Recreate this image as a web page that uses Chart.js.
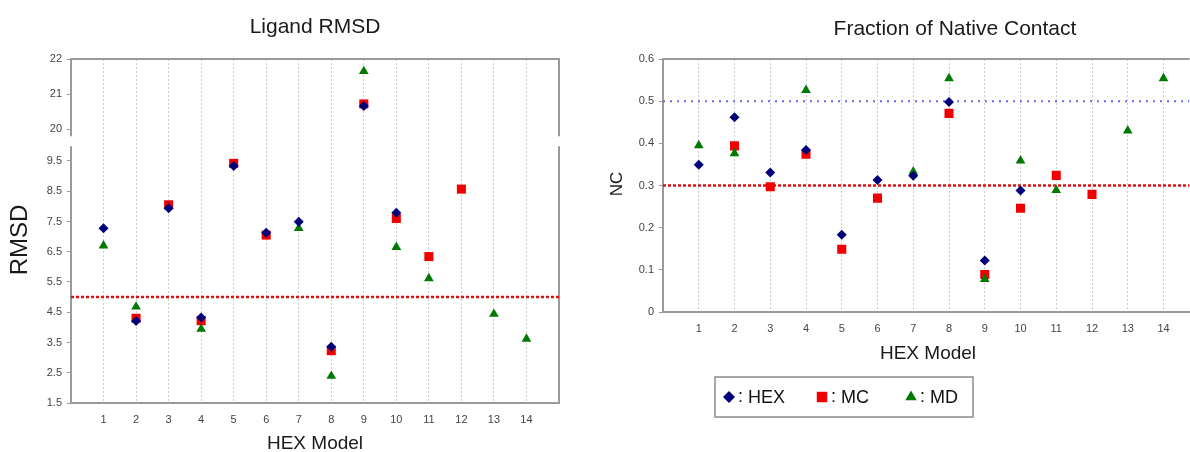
<!DOCTYPE html>
<html>
<head>
<meta charset="utf-8">
<script src="https://cdn.jsdelivr.net/npm/chart.js@4/dist/chart.umd.min.js"></script>
<style>
  html, body { margin: 0; padding: 0; background: #fff; }
  #wrap { position: relative; width: 1190px; height: 452px; overflow: hidden; }
  #rmsd { position: absolute; left: 0; top: 0; }
  #nc { position: absolute; left: 580px; top: 0; }
</style>
</head>
<body>
<div id="wrap">
  <canvas id="rmsd" width="580" height="452"></canvas>
  <!-- a few px wider than the window: the plot runs off the right edge -->
  <canvas id="nc" width="616" height="452"></canvas>
</div>
<script>
// HEX model index on the x axis of both panels.
var models = [1, 2, 3, 4, 5, 6, 7, 8, 9, 10, 11, 12, 13, 14];
var seriesNames = ["HEX", "MC", "MD"];

// Ligand RMSD per model (null = no point for that model).
var rmsdHex = [7.28, 4.21, 7.94, 4.33, 9.33, 7.13, 7.49, 3.36, 20.66, 7.79, null, null, null, null];
var rmsdMc  = [null, 4.30, 8.05, 4.22, 9.42, 7.05, null, 3.23, 20.72, 7.60, 6.34, 8.57, null, null];
var rmsdMd  = [6.70, 4.68, null, 3.95, null, null, 7.28, 2.39, 21.65, 6.65, 5.62, null, 4.44, 3.62];
var rmsdTicks = [1.5, 2.5, 3.5, 4.5, 5.5, 6.5, 7.5, 8.5, 9.5, 20, 21, 22];
var rmsdCutoff = 5;

// Fraction of native contact per model.
var ncHex = [0.349, 0.462, 0.331, 0.384, 0.183, 0.313, 0.323, 0.498, 0.122, 0.288, null, null, null, null];
var ncMc  = [null, 0.394, 0.297, 0.374, 0.149, 0.270, null, 0.471, 0.089, 0.246, 0.324, 0.279, null, null];
var ncMd  = [0.395, 0.376, null, 0.526, null, null, 0.333, 0.554, 0.078, 0.359, 0.289, null, 0.430, 0.554];
var ncTicks = [0, 0.1, 0.2, 0.3, 0.4, 0.5, 0.6];
var ncCutoffLow = 0.3;
var ncCutoffHigh = 0.5;

(function () {
  "use strict";

  var FONT = "'Liberation Sans', Arial, sans-serif";
  var AXIS = "#9a9a9a";

  // The RMSD axis is broken between 9.5 and 20: values above the break are
  // folded down onto a slightly stretched segment sitting on top of 9.5.
  var BREAK_BASE = 10.55, UPPER_STEP = 1.16;
  function squash(v) { return v > 15 ? BREAK_BASE + (v - 20) * UPPER_STEP : v; }

  function points(values, map) {
    var out = [];
    values.forEach(function (v, i) {
      if (v === null) return;
      out.push({ x: models[i], y: map ? map(v) : v });
    });
    return out;
  }

  var styles = [
    { pointStyle: "rectRot", color: "#00007a", radius: 5, order: 0 },
    { pointStyle: "rect", color: "#f20000", radius: 6.4, order: 2 },
    { pointStyle: "triangle", color: "#007a00", radius: 5.6, order: 1 },
  ];

  function seriesSets(lists, map) {
    return lists.map(function (vals, k) {
      var s = styles[k];
      return {
        label: seriesNames[k],
        data: points(vals, map),
        pointStyle: s.pointStyle,
        pointRadius: s.radius,
        pointHoverRadius: s.radius,
        backgroundColor: s.color,
        borderColor: s.color,
        borderWidth: 0,
        order: s.order,
      };
    });
  }

  function cutoffLine(y, xMax, color, dash, width) {
    return {
      type: "line",
      label: "",
      data: [{ x: 0, y: y }, { x: xMax, y: y }],
      borderColor: color,
      borderDash: dash,
      borderWidth: width,
      pointRadius: 0,
      order: 5,
    };
  }

  // panelText draws the titles, the plot frame (top/right), the axis break
  // and the boxed legend; its options live per chart.
  var panelText = {
    id: "panelText",
    beforeDatasetsDraw: function (chart, args, o) {
      var a = chart.chartArea, ctx = chart.ctx;
      ctx.save();
      ctx.strokeStyle = AXIS;
      ctx.lineWidth = 2;
      ctx.beginPath();
      ctx.moveTo(a.left, a.top);
      ctx.lineTo(a.right, a.top);
      if (o.rightFrame) ctx.lineTo(a.right, a.bottom);
      ctx.stroke();
      ctx.restore();
    },
    afterDraw: function (chart, args, o) {
      var a = chart.chartArea, ctx = chart.ctx;
      ctx.save();
      if (o.breakAt) {
        var y = chart.scales.y.getPixelForValue(o.breakAt);
        ctx.fillStyle = "#fff";
        ctx.fillRect(a.left - 2, y - 5, 4, 10);
        ctx.fillRect(a.right - 2, y - 5, 4, 10);
      }
      ctx.fillStyle = "#1a1a1a";
      ctx.textAlign = "center";
      ctx.textBaseline = "alphabetic";
      ctx.font = "21px " + FONT;
      ctx.fillText(o.title, o.titleX != null ? o.titleX : (a.left + a.right) / 2, o.titleY);
      ctx.font = o.xTitleSize + "px " + FONT;
      ctx.fillText(o.xTitle, o.xTitleX != null ? o.xTitleX : (a.left + a.right) / 2, o.xTitleY);
      ctx.save();
      ctx.translate(o.yTitleX, o.yTitleY);
      ctx.rotate(-Math.PI / 2);
      ctx.textBaseline = "middle";
      ctx.font = o.yTitleSize + "px " + FONT;
      ctx.fillText(o.yTitle, 0, 0);
      ctx.restore();

      if (o.legend) {
        var L = o.legend;
        ctx.strokeStyle = "#8a8a8a";
        ctx.lineWidth = 1.5;
        ctx.strokeRect(L.x, L.y, L.w, L.h);
        ctx.font = "18px " + FONT;
        ctx.textAlign = "left";
        ctx.textBaseline = "middle";
        var my = L.y + L.h / 2;
        seriesNames.forEach(function (name, k) {
          var s = styles[k], mx = L.items[k];
          ctx.fillStyle = s.color;
          ctx.strokeStyle = s.color;
          Chart.helpers.drawPoint(ctx, { pointStyle: s.pointStyle, radius: s.radius + 1, borderWidth: 0 }, mx, my);
          ctx.fillStyle = "#111";
          ctx.fillText(":", mx + 9, my);
          ctx.fillText(name, mx + 19, my + 1);
        });
      }
      ctx.restore();
    },
  };

  function xScale(xMax, height) {
    return {
      type: "linear",
      min: 0,
      max: xMax,
      afterBuildTicks: function (s) { s.ticks = models.map(function (m) { return { value: m }; }); },
      afterFit: function (s) { s.height = height; },
      ticks: { color: "#444", font: { family: FONT, size: 11 }, padding: 10, maxRotation: 0 },
      grid: { color: "#cdcdcd", lineWidth: 1, drawTicks: false },
      border: { color: AXIS, width: 2, dash: [2, 2] },
    };
  }

  function yScale(min, max, ticks, map, width) {
    return {
      type: "linear",
      min: min,
      max: max,
      afterBuildTicks: function (s) {
        s.ticks = ticks.map(function (v) { return { value: map ? map(v) : v }; });
      },
      afterFit: function (s) { s.width = width; },
      ticks: {
        color: "#444",
        font: { family: FONT, size: 11 },
        padding: 5,
        callback: function (v, i) { return String(ticks[i]); },
      },
      grid: { drawOnChartArea: false, drawTicks: true, tickLength: 4, tickColor: AXIS, tickWidth: 1 },
      border: { color: AXIS, width: 2 },
    };
  }

  var common = {
    responsive: false,
    animation: false,
    events: [],
  };

  new Chart(document.getElementById("rmsd"), {
    type: "scatter",
    data: {
      datasets: seriesSets([rmsdHex, rmsdMc, rmsdMd], squash)
        .concat([cutoffLine(rmsdCutoff, 15, "#e01010", [3, 2], 2.5)]),
    },
    options: Object.assign({}, common, {
      layout: { padding: { top: 59, right: 21, bottom: 0, left: 0 } },
      scales: {
        x: xScale(15, 49),
        y: yScale(squash(1.5), squash(22), rmsdTicks, squash, 71),
      },
      plugins: {
        legend: { display: false },
        tooltip: { enabled: false },
        panelText: {
          title: "Ligand RMSD", titleY: 33,
          xTitle: "HEX Model", xTitleY: 449, xTitleSize: 19,
          yTitle: "RMSD", yTitleX: 20, yTitleY: 240, yTitleSize: 24,
          rightFrame: true,
          breakAt: 10.15,
        },
      },
    }),
    plugins: [panelText],
  });

  new Chart(document.getElementById("nc"), {
    type: "scatter",
    data: {
      datasets: seriesSets([ncHex, ncMc, ncMd])
        .concat([
          cutoffLine(ncCutoffLow, 14.73, "#e01010", [3, 2], 2.5),
          cutoffLine(ncCutoffHigh, 14.73, "#6b6bf0", [2, 5], 2),
        ]),
    },
    options: Object.assign({}, common, {
      layout: { padding: { top: 59, right: 0, bottom: 0, left: 0 } },
      scales: {
        x: xScale(14.73, 140),
        y: yScale(0, 0.6, ncTicks, null, 83),
      },
      plugins: {
        legend: { display: false },
        tooltip: { enabled: false },
        panelText: {
          title: "Fraction of Native Contact", titleX: 375, titleY: 35,
          xTitle: "HEX Model", xTitleX: 348, xTitleY: 359, xTitleSize: 19,
          yTitle: "NC", yTitleX: 37, yTitleY: 184, yTitleSize: 17,
          rightFrame: false,
          legend: { x: 135, y: 377, w: 258, h: 40, items: [149, 242, 331] },
        },
      },
    }),
    plugins: [panelText],
  });
})();
</script>
</body>
</html>
